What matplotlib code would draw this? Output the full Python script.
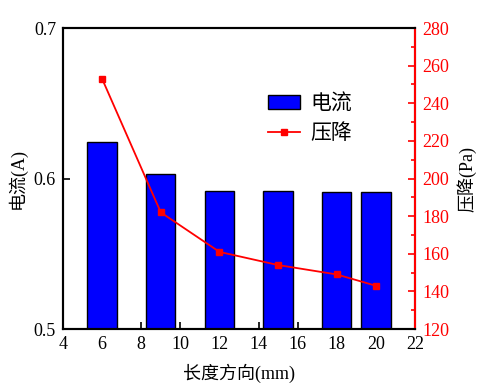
import numpy as np
import matplotlib
matplotlib.use('Agg')
import matplotlib.pyplot as plt
from matplotlib.ticker import MultipleLocator

plt.rcParams['font.family'] = ['Liberation Serif', 'Noto Sans CJK SC']
plt.rcParams['axes.unicode_minus'] = False

# data
length = [6, 9, 12, 15, 18, 20]
current = [0.624, 0.603, 0.592, 0.592, 0.591, 0.591]
pressure = [253, 182, 161, 154, 149, 143]

fig = plt.figure(figsize=(4.82, 3.89), dpi=100)
ax = fig.add_axes([0.1307, 0.1542, 0.7303, 0.7738])
ax2 = ax.twinx()

b = ax.bar(length, current, width=1.5, bottom=0, color='#0000ff', edgecolor='black',
           linewidth=1, label='电流', zorder=2)
ln, = ax2.plot(length, pressure, color='#ff0000', marker='s', markersize=5,
               linewidth=1.3, label='压降')

ax.set_xlim(4, 22)
ax.set_ylim(0.5, 0.7)
ax2.set_ylim(120, 280)
ax.xaxis.set_major_locator(MultipleLocator(2))
ax.yaxis.set_major_locator(MultipleLocator(0.1))
ax2.yaxis.set_major_locator(MultipleLocator(20))
ax2.yaxis.set_minor_locator(MultipleLocator(10))
ax.yaxis.set_major_formatter(matplotlib.ticker.FormatStrFormatter('%.1f'))

ax.tick_params(direction='in', length=5, width=1.2, labelsize=13, top=False, pad=5)
ax2.tick_params(axis='y', which='major', direction='in', length=5, width=1.2,
                labelsize=13, colors='#ff0000', pad=5)
ax2.tick_params(axis='y', which='minor', direction='in', length=3, width=1.2,
                colors='#ff0000')

for s in ax.spines.values():
    s.set_linewidth(1.5)
for s in ax2.spines.values():
    s.set_linewidth(1.5)
ax2.spines['right'].set_color('#ff0000')

ax.set_xlabel('长度方向(mm)', fontsize=13, labelpad=8)
ax.set_ylabel('电流(A)', fontsize=13, labelpad=5)
ax2.set_ylabel('压降(Pa)', fontsize=13, labelpad=6)

ax.legend([b, ln], ['电流', '压降'], loc='upper left', bbox_to_anchor=(0.583, 0.78),
          frameon=False, fontsize=15, handlelength=1.54, handleheight=0.72,
          labelspacing=0.5, handletextpad=0.5, borderaxespad=0, borderpad=0)

fig.savefig('out.png', dpi=100)
